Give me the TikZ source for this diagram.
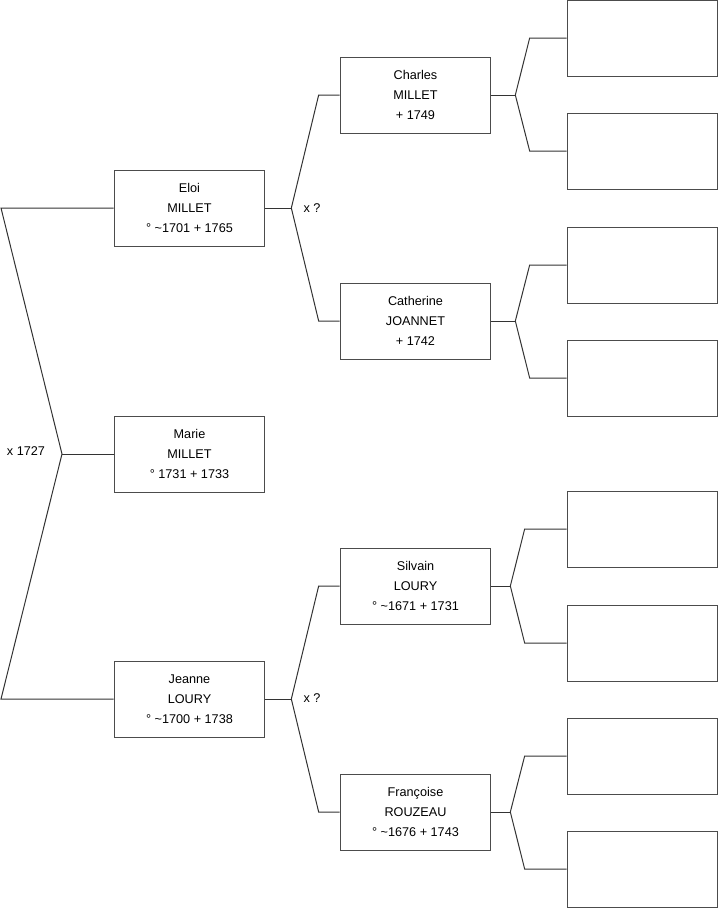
\documentclass[tikz,border=0pt]{standalone}
\usepackage{fontspec}
\setmainfont{Liberation Sans}
\usetikzlibrary{positioning}

\begin{document}
\begin{tikzpicture}[
  x=0.75pt, y=-0.75pt,
  font=\fontsize{9.5}{15}\selectfont,
  person/.style={draw=black!70, line width=0.75pt, fill=white,
                 minimum width=113pt, minimum height=57pt,
                 inner sep=0pt, align=center},
  blank/.style={person},
  link/.style={draw=black!80, line width=0.75pt},
  lab/.style={font=\fontsize{9.5}{11}\selectfont, inner sep=0pt},
]
\useasboundingbox (0,0) rectangle (719,908);

% ---- Generation 1 ---------------------------------------------------
\node[person] (marie) at (189.5,454) {Marie\\MILLET\\° 1731 + 1733};

% ---- Generation 2 (parents) ----------------------------------------
\node[person] (eloi)   at (189.5,208) {Eloi\\MILLET\\° \textasciitilde1701 + 1765};
\node[person] (jeanne) at (189.5,699) {Jeanne\\LOURY\\° \textasciitilde1700 + 1738};

% ---- Generation 3 (grandparents) -----------------------------------
\node[person] (charles)   at (415.5,95)  {Charles\\MILLET\\ + 1749};
\node[person] (catherine) at (415.5,321) {Catherine\\JOANNET\\ + 1742};
\node[person] (silvain)   at (415.5,586) {Silvain\\LOURY\\° \textasciitilde1671 + 1731};
\node[person] (francoise) at (415.5,812) {Françoise\\ROUZEAU\\° \textasciitilde1676 + 1743};

% ---- Generation 4 (empty) ------------------------------------------
\foreach \y [count=\i] in {38,151,265,378,529,643,756,869} {
  \node[blank] (e\i) at (642.5,\y) {};
}

% ---- Connections ----------------------------------------------------
\coordinate (top)  at (1,208);
\coordinate (mid)  at (62,454);
\coordinate (bot)  at (1,699);
\draw[link] (eloi.west) -- (top) -- (mid) -- (bot) -- (jeanne.west);
\draw[link] (mid) -- (marie.west);

\foreach \p/\a/\b/\d/\s in {eloi/charles/catherine/26/21,
                            jeanne/silvain/francoise/26/21,
                            charles/e1/e2/24/37,
                            catherine/e3/e4/24/37,
                            silvain/e5/e6/19/42,
                            francoise/e7/e8/19/42} {
  \path (\p.east) ++(\d,0) coordinate (\p-j);
  \path (\a.west) ++(-\s,0) coordinate (\a-k);
  \path (\b.west) ++(-\s,0) coordinate (\b-k);
  \draw[link] (\p.east) -- (\p-j);
  \draw[link] (\a.west) -- (\a-k) -- (\p-j) -- (\b-k) -- (\b.west);
}

% ---- Marriage labels ------------------------------------------------
\node[lab] (m1) at (26,451) {x 1727};
\node[lab] (m2) at (312,208) {x ?};
\node[lab] (m3) at (312,698) {x ?};

\end{tikzpicture}
\end{document}
